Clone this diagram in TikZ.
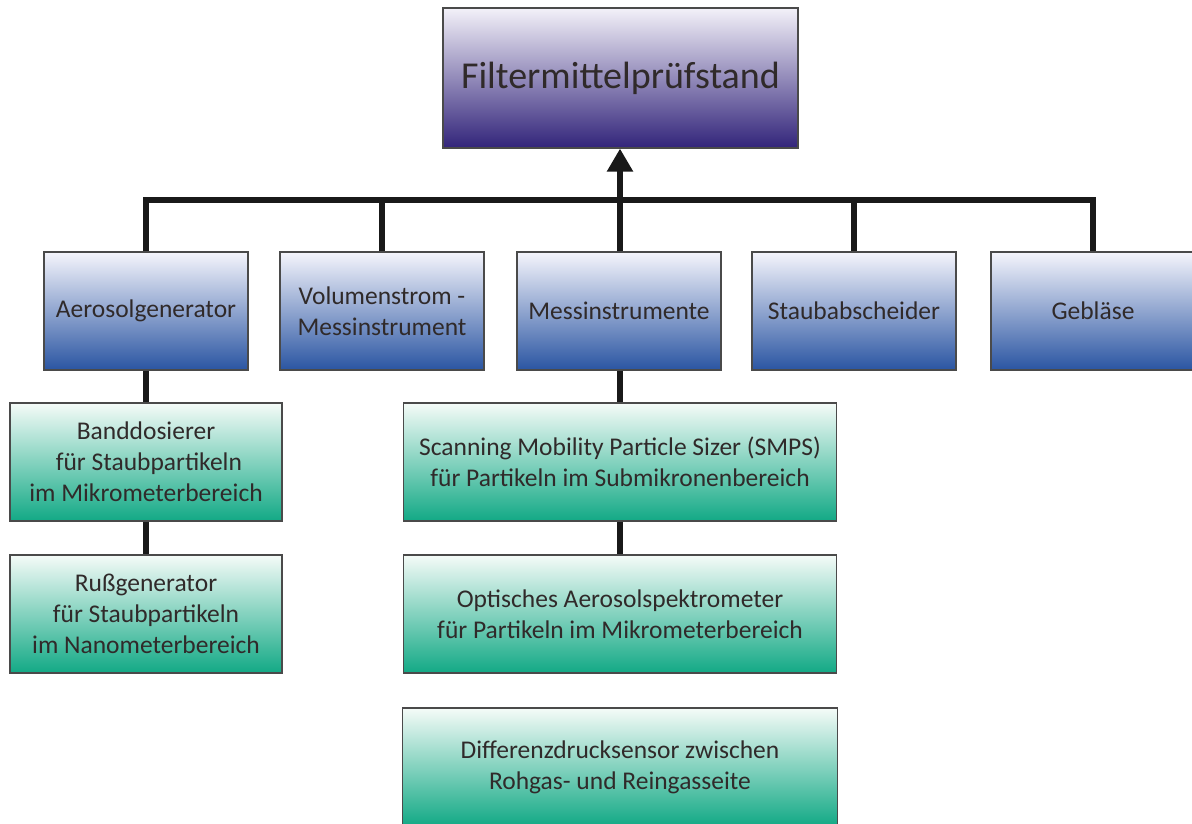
\documentclass[tikz,border=0pt]{standalone}
\usepackage{fontspec}
\setmainfont{Carlito}
\usetikzlibrary{arrows.meta}
\definecolor{txt}{HTML}{302A2A}
\definecolor{edge}{HTML}{4A4A4A}
\definecolor{purpleTop}{HTML}{F3F1F9}
\definecolor{purpleMid}{HTML}{9C8FC6}
\definecolor{purpleBot}{HTML}{32247A}
\definecolor{blueTop}{HTML}{F5F5FC}
\definecolor{blueMid}{HTML}{A4ADDA}
\definecolor{blueBot}{HTML}{2A55A2}
\definecolor{greenTop}{HTML}{F5FBF8}
\definecolor{greenMid}{HTML}{92D2BF}
\definecolor{greenBot}{HTML}{12A985}
\tikzset{
  box/.style={draw=edge, line width=1.2pt, rectangle, align=center, text=txt,
    inner sep=2pt, font=\fontsize{25.5}{31}\selectfont},
  rootbox/.style={box, minimum width=355pt, minimum height=140pt,
    top color=purpleTop, middle color=purpleMid, bottom color=purpleBot,
    font=\fontsize{38}{44}\selectfont},
  groupbox/.style={box, minimum width=204pt, minimum height=118pt,
    top color=blueTop, middle color=blueMid, bottom color=blueBot},
  itembox/.style={box, minimum height=118pt,
    top color=greenTop, middle color=greenMid, bottom color=greenBot},
  conn/.style={line width=5.5pt, draw=black!90, line join=miter},
}
\begin{document}
\begin{tikzpicture}[x=1pt, y=-1pt]
  \useasboundingbox (0,0) rectangle (1192,823);

  % root
  \node[rootbox] (root) at (620.5,78) {Filtermittelprüfstand};

  % component groups
  \node[groupbox] (aero)  at (146,311)  {Aerosolgenerator};
  \node[groupbox] (vol)   at (382,311)  {Volumenstrom -\\Messinstrument};
  \node[groupbox] (mess)  at (619,311)  {Messinstrumente};
  \node[groupbox] (staub) at (854,311)  {Staubabscheider};
  \node[groupbox] (geb)   at (1093,311) {Gebläse};

  % aerosol sources
  \node[itembox, minimum width=272pt] (band) at (146,462)
    {Banddosierer\\\ für Staubpartikeln\\im Mikrometerbereich};
  \node[itembox, minimum width=272pt] (russ) at (146,614)
    {Rußgenerator\\für Staubpartikeln\\im Nanometerbereich};

  % measuring instruments
  \node[itembox, minimum width=433pt] (smps) at (620,462)
    {Scanning Mobility Particle Sizer (SMPS)\\für Partikeln im Submikronenbereich};
  \node[itembox, minimum width=433pt] (opt) at (620,614)
    {Optisches Aerosolspektrometer\\für Partikeln im Mikrometerbereich};
  \node[itembox, minimum width=435pt] (diff) at (620,767)
    {Differenzdrucksensor zwischen\\Rohgas- und Reingasseite};

  % bus joining the groups to the root
  \coordinate (hub) at (620,200);
  \draw[conn] (aero.north) |- (hub) -| (geb.north);
  \draw[conn] (vol.north) -- (vol.north |- hub);
  \draw[conn] (staub.north) -- (staub.north |- hub);
  \draw[conn, -{Triangle[length=23pt, width=25pt]}] (hub |- mess.north) -- (hub |- root.south);

  % chains below the groups
  \draw[conn] (aero.south) -- (band.north);
  \draw[conn] (band.south) -- (russ.north);
  \draw[conn] (hub |- mess.south) -- (hub |- smps.north);
  \draw[conn] (hub |- smps.south) -- (hub |- opt.north);
\end{tikzpicture}
\end{document}
